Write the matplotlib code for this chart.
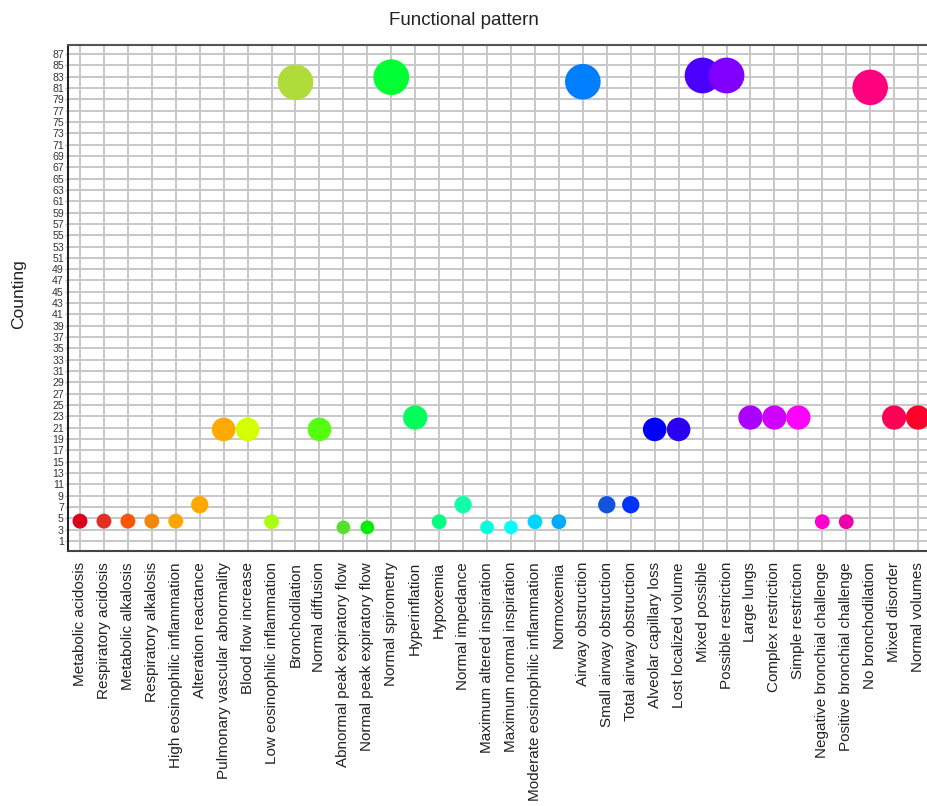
import matplotlib.pyplot as plt
import numpy as np

plt.rcParams['font.family'] = ['Liberation Sans', 'DejaVu Sans']

categories = ["Metabolic acidosis", "Respiratory acidosis", "Metabolic alkalosis",
              "Respiratory alkalosis", "High eosinophilic inflammation", "Alteration reactance",
              "Pulmonary vascular abnormality", "Blood flow increase", "Low eosinophilic inflammation",
              "Bronchodilation", "Normal diffusion", "Abnormal peak expiratory flow",
              "Normal peak expiratory flow", "Normal spirometry", "Hyperinflation", "Hypoxemia",
              "Normal impedance", "Maximum altered inspiration", "Maximum normal inspiration",
              "Moderate eosinophilic inflammation", "Normoxemia", "Airway obstruction",
              "Small airway obstruction", "Total airway obstruction", "Alveolar capillary loss",
              "Lost localized volume", "Mixed possible", "Possible restriction", "Large lungs",
              "Complex restriction", "Simple restriction", "Negative bronchial challenge",
              "Positive bronchial challenge", "No bronchodilation", "Mixed disorder", "Normal volumes"]

counts = [4.5, 4.5, 4.5, 4.5, 4.5, 7.4, 20.7, 20.7, 4.4, 82.0, 20.7, 3.4,
          3.4, 82.9, 22.8, 4.4, 7.4, 3.4, 3.4, 4.4, 4.4, 82.1,
          7.4, 7.4, 20.7, 20.7, 83.2, 83.2, 22.8, 22.8, 22.8, 4.4,
          4.4, 81.1, 22.8, 22.8]

colors = ["#d9001b", "#e03025", "#ff5500", "#f0880e", "#ffa500", "#ffa800",
          "#ffaa00", "#d4ff00", "#aaff11", "#b0dc3a", "#55ff11", "#55e030",
          "#00ee00", "#00ff33", "#00ff5a", "#00ff80", "#11ffaa", "#00ffdd",
          "#00ffff", "#00d4ff", "#00aaff", "#0080ff", "#1155dd", "#0033ff",
          "#0000ff", "#2a00ee", "#4b00ff", "#8000ff", "#aa00ff", "#d000ff",
          "#ff00ff", "#ff00cc", "#ee00aa", "#ff007f", "#ff0055", "#ff002a"]

yticks = list(range(1, 88, 2))

fig = plt.figure(figsize=(9.28, 8.06), dpi=100)
ax = fig.add_axes([0.0733, 0.3164, 0.9289, 0.6278])

x = np.arange(len(categories))
vals = np.array(counts)
# bubble diameter grows with the count (px), converted to points^2
diam_px = 9.5 * vals ** 0.3
sizes = (diam_px * 0.72) ** 2
ax.scatter(x, vals, s=sizes, c=colors, edgecolors='none', zorder=3, clip_on=False)

ax.set_xlim(-0.5, 35.5)
ax.set_ylim(-0.77, 88.59)
ax.set_xticks(x)
ax.set_xticklabels(categories, rotation=90, fontsize=11, color='#222222')
ax.set_yticks(yticks)
ax.set_yticklabels([str(v) for v in yticks], fontsize=7.6, color='#333333')
ax.tick_params(axis='x', length=0, pad=8)
ax.tick_params(axis='y', length=2, width=1, color='#c8c8c8', pad=1)

ax.grid(True, color='#c8c8c8', linewidth=1.4, zorder=0)
ax.set_axisbelow(True)
for side in ['left', 'bottom', 'top']:
    ax.spines[side].set_color('#555555')
    ax.spines[side].set_linewidth(1.5)
ax.spines['left'].set_color('#222222')
ax.spines['bottom'].set_color('#444444')
ax.spines['right'].set_visible(False)

fig.text(0.5, 0.974, "Functional pattern", ha='center', va='center', fontsize=13.5, color='#222222')
fig.text(0.02, 0.635, "Counting", ha='center', va='center', rotation=90, fontsize=12.5, color='#222222')

fig.savefig("out.png", dpi=100)
